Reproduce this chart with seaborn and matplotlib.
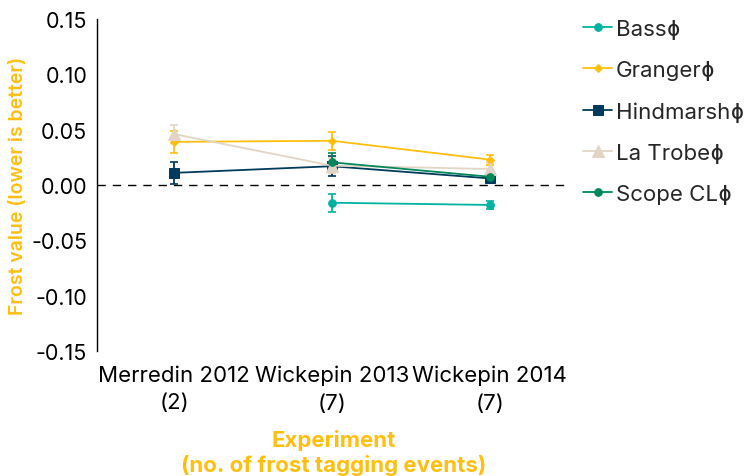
import numpy as np
import pandas as pd
import matplotlib
matplotlib.use('Agg')
import matplotlib.pyplot as plt
import seaborn as sns

# data
experiments = ['Merredin 2012\n(2)', 'Wickepin 2013\n(7)', 'Wickepin 2014\n(7)']
varieties = ['Bass\u0278', 'Granger\u0278', 'Hindmarsh\u0278', 'La Trobe\u0278', 'Scope CL\u0278']

bass = [np.nan, -0.016, -0.018]
bass_err = [np.nan, 0.008, 0.004]
granger = [0.039, 0.040, 0.023]
granger_err = [0.010, 0.008, 0.0045]
hindmarsh = [0.011, 0.017, 0.006]
hindmarsh_err = [0.010, 0.009, 0.003]
la_trobe = [0.046, 0.0175, 0.0145]
la_trobe_err = [0.008, 0.007, 0.005]
scope_cl = [np.nan, 0.0205, 0.0075]
scope_cl_err = [np.nan, 0.0085, 0.003]

colors = ['#00b2a0', '#ffbf0f', '#003a5c', '#e3d5c5', '#00875a']
markers = ['o', 'D', 's', '^', 'o']
marker_sizes = [5.5, 4, 6.5, 8, 5.5]

values = [bass, granger, hindmarsh, la_trobe, scope_cl]
errors = [bass_err, granger_err, hindmarsh_err, la_trobe_err, scope_cl_err]

rows = []
for v, vals, errs in zip(varieties, values, errors):
    for i, (val, err) in enumerate(zip(vals, errs)):
        if not np.isnan(val):
            rows.append((v, i, val, err))
df = pd.DataFrame(rows, columns=['Variety', 'Experiment', 'Frost', 'Err'])

sns.set_style('white')
plt.rcParams['font.family'] = ['Inter', 'DejaVu Sans']

fig = plt.figure(figsize=(7.52, 4.77), dpi=100)
ax = fig.add_axes([0.129, 0.262, 0.629, 0.696])

ax.axhline(0, color='black', linestyle=(0, (6, 5)), linewidth=1, zorder=1)

for v, c, m, ms in zip(varieties, colors, markers, marker_sizes):
    sub = df[df['Variety'] == v]
    sns.lineplot(data=sub, x='Experiment', y='Frost', color=c, marker=m, markersize=ms,
                 markeredgecolor=c, linewidth=1.3, label=v, ax=ax, zorder=3)
    ax.errorbar(sub['Experiment'], sub['Frost'], yerr=sub['Err'], fmt='none',
                ecolor=c, elinewidth=1.3, capsize=3, capthick=1.2, zorder=2)

ax.set_xlim(-0.49, 2.51)
ax.set_ylim(-0.15, 0.15)
ax.set_yticks(np.arange(-0.15, 0.151, 0.05))
ax.set_yticklabels([f'{t:.2f}' for t in np.arange(-0.15, 0.151, 0.05)])
ax.set_xticks([0, 1, 2])
ax.set_xticklabels(experiments, linespacing=1.45)

for s in ['top', 'right', 'bottom']:
    ax.spines[s].set_visible(False)
ax.spines['left'].set_color('black')
ax.spines['left'].set_linewidth(1)
ax.tick_params(axis='y', direction='inout', length=12, width=1, labelsize=15.5, colors='black', pad=1)
ax.tick_params(axis='x', length=0, labelsize=16, colors='black', pad=10)

ax.set_ylabel('Frost value (lower is better)', color='#ffbf0f', fontsize=14,
              fontweight='semibold', labelpad=3)
ax.set_xlabel('Experiment\n(no. of frost tagging events)', color='#ffbf0f', fontsize=16,
              fontweight='bold', labelpad=12)

ax.legend(loc='upper left', bbox_to_anchor=(1.0, 1.04), frameon=False, fontsize=16,
          handlelength=1.3, handletextpad=0.15, labelspacing=0.95, borderaxespad=0.2)

fig.savefig('out.png', dpi=100)
